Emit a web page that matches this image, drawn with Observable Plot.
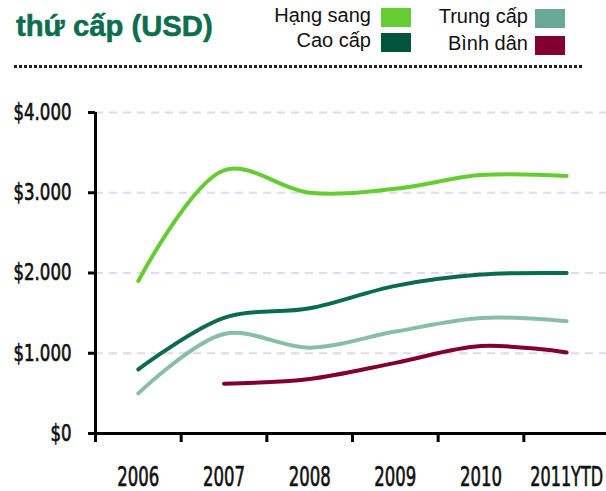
<!DOCTYPE html>
<html><head><meta charset="utf-8">
<script src="https://cdn.jsdelivr.net/npm/d3@7"></script>
<script src="https://cdn.jsdelivr.net/npm/@observablehq/plot@0.6"></script>
<style>
body{margin:0;background:#fff;width:606px;height:491px;overflow:hidden;}
#head{position:relative;height:80px;width:606px;}
.title{position:absolute;left:16px;top:9px;font:bold 30px "Liberation Sans",Arial,sans-serif;color:#0d6e4f;white-space:nowrap;transform-origin:left top;-webkit-text-stroke:0.6px #0d6e4f;}
.lg{position:absolute;font:20px "Liberation Sans",Arial,sans-serif;color:#111;text-align:right;white-space:nowrap;}
.sw{position:absolute;width:30px;height:19px;}
.dots{position:absolute;left:14px;top:65px;width:568px;height:3px;background:repeating-linear-gradient(to right,#222 0 3px,transparent 3px 5px);}
svg{display:block;}
.axl text{stroke:#111;stroke-width:0.7px;}
</style></head><body>
<div id="head"></div>
<div id="chart"></div>
<script>
const categories = ["2006","2007","2008","2009","2010","2011YTD"];
const seriesNames = ["Hạng sang","Cao cấp","Trung cấp","Bình dân"];
const hangSang = [1900, 3280, 3000, 3050, 3220, 3210];
const caoCap   = [800, 1440, 1560, 1840, 1980, 2000];
const trungCap = [500, 1240, 1070, 1270, 1440, 1400];
const binhDan  = [null, 620, 680, 880, 1090, 1010];
const lineColors = ["#66cc33","#0b6b4e","#88bea8","#820030"];
const swatchColors = ["#66cc33","#00553a","#6aa896","#820030"];
const yTicks = [0, 1000, 2000, 3000, 4000];
const titleText = "thứ cấp (USD)";

const head = document.getElementById("head");
head.innerHTML = `<div class="title">${titleText}</div><div class="dots"></div>`;
const legendPos = [[0, 371, 381, 8],[2, 528, 535, 9],[1, 371, 381, 33],[3, 528, 535, 36]];
for (const [i, tr, sl, top] of legendPos) {
  const t = document.createElement("div");
  t.className = "lg"; t.textContent = seriesNames[i];
  t.style.right = (606 - tr) + "px"; t.style.top = (top - 4) + "px";
  head.appendChild(t);
  const s = document.createElement("div");
  s.className = "sw"; s.style.left = sl + "px"; s.style.top = top + "px";
  s.style.background = swatchColors[i];
  head.appendChild(s);
}
const title = head.querySelector(".title");
title.style.transform = `scaleX(${197 / title.offsetWidth})`;

const allSeries = [hangSang, caoCap, trungCap, binhDan];
const data = [];
allSeries.forEach((vals, si) => vals.forEach((v, ci) => {
  if (v != null) data.push({series: seriesNames[si], i: ci, v});
}));
const bounds = d3.range(categories.length + 1).map(k => k - 0.5);
const fmt = d => "$" + d3.format(",")(d).replace(/,/g, ".");

const plot = Plot.plot({
  width: 606, height: 411,
  marginTop: 32, marginBottom: 58, marginLeft: 95, marginRight: 0,
  x: {domain: [-0.5, categories.length - 0.5], range: [95, 609], label: null},
  y: {domain: [0, 4000], label: null},
  style: {fontFamily: '"DejaVu Sans",sans-serif', color: "#111"},
  marks: [
    Plot.ruleY(yTicks.filter(d => d > 0), {stroke: "#dcdcea", strokeWidth: 2, strokeDasharray: "8,6"}),
    Plot.axisY({ticks: yTicks, tickFormat: fmt, tickSize: 7, tickPadding: 17, fontSize: 23, strokeWidth: 3, stroke: "#000", fill: "#111", label: null, className: "axl"}),
    Plot.axisX({ticks: d3.range(categories.length), tickFormat: i => categories[i], tickSize: 0, tickPadding: 34, fontSize: 26, fill: "#111", label: null, className: "axl"}),
    Plot.axisX({ticks: bounds, tickFormat: () => "", tickSize: 9, strokeWidth: 3, stroke: "#000", label: null}),
    Plot.ruleX([-0.5], {y1: 0, y2: 4000, stroke: "#000", strokeWidth: 3}),
    Plot.ruleY([0], {stroke: "#000", strokeWidth: 3}),
    Plot.line(data, {x: "i", y: "v", z: "series", stroke: d => lineColors[seriesNames.indexOf(d.series)], strokeWidth: 4, curve: "catmull-rom", strokeLinecap: "round"})
  ]
});
document.getElementById("chart").appendChild(plot);
// condense axis labels (reference uses a condensed face)
function condense(sel, refText, refWidth, maxRight) {
  const texts = [...plot.querySelectorAll(sel)];
  const ref = texts.find(t => t.textContent === refText);
  if (!ref) return;
  const k = refWidth / ref.getComputedTextLength();
  texts.forEach(t => {
    let w = t.getComputedTextLength() * k;
    if (maxRight) {
      const cx = t.getCTM().e + (+t.getAttribute("x") || 0);
      w = Math.min(w, 2 * (maxRight - cx));
    }
    if (w > 0) { t.setAttribute("textLength", w.toFixed(1)); t.setAttribute("lengthAdjust", "spacingAndGlyphs"); }
  });
}
condense('g[aria-label="y-axis tick label"] text', "$4.000", 58);
condense('g[aria-label="x-axis tick label"] text', "2006", 42, 603);
</script>
</body></html>
